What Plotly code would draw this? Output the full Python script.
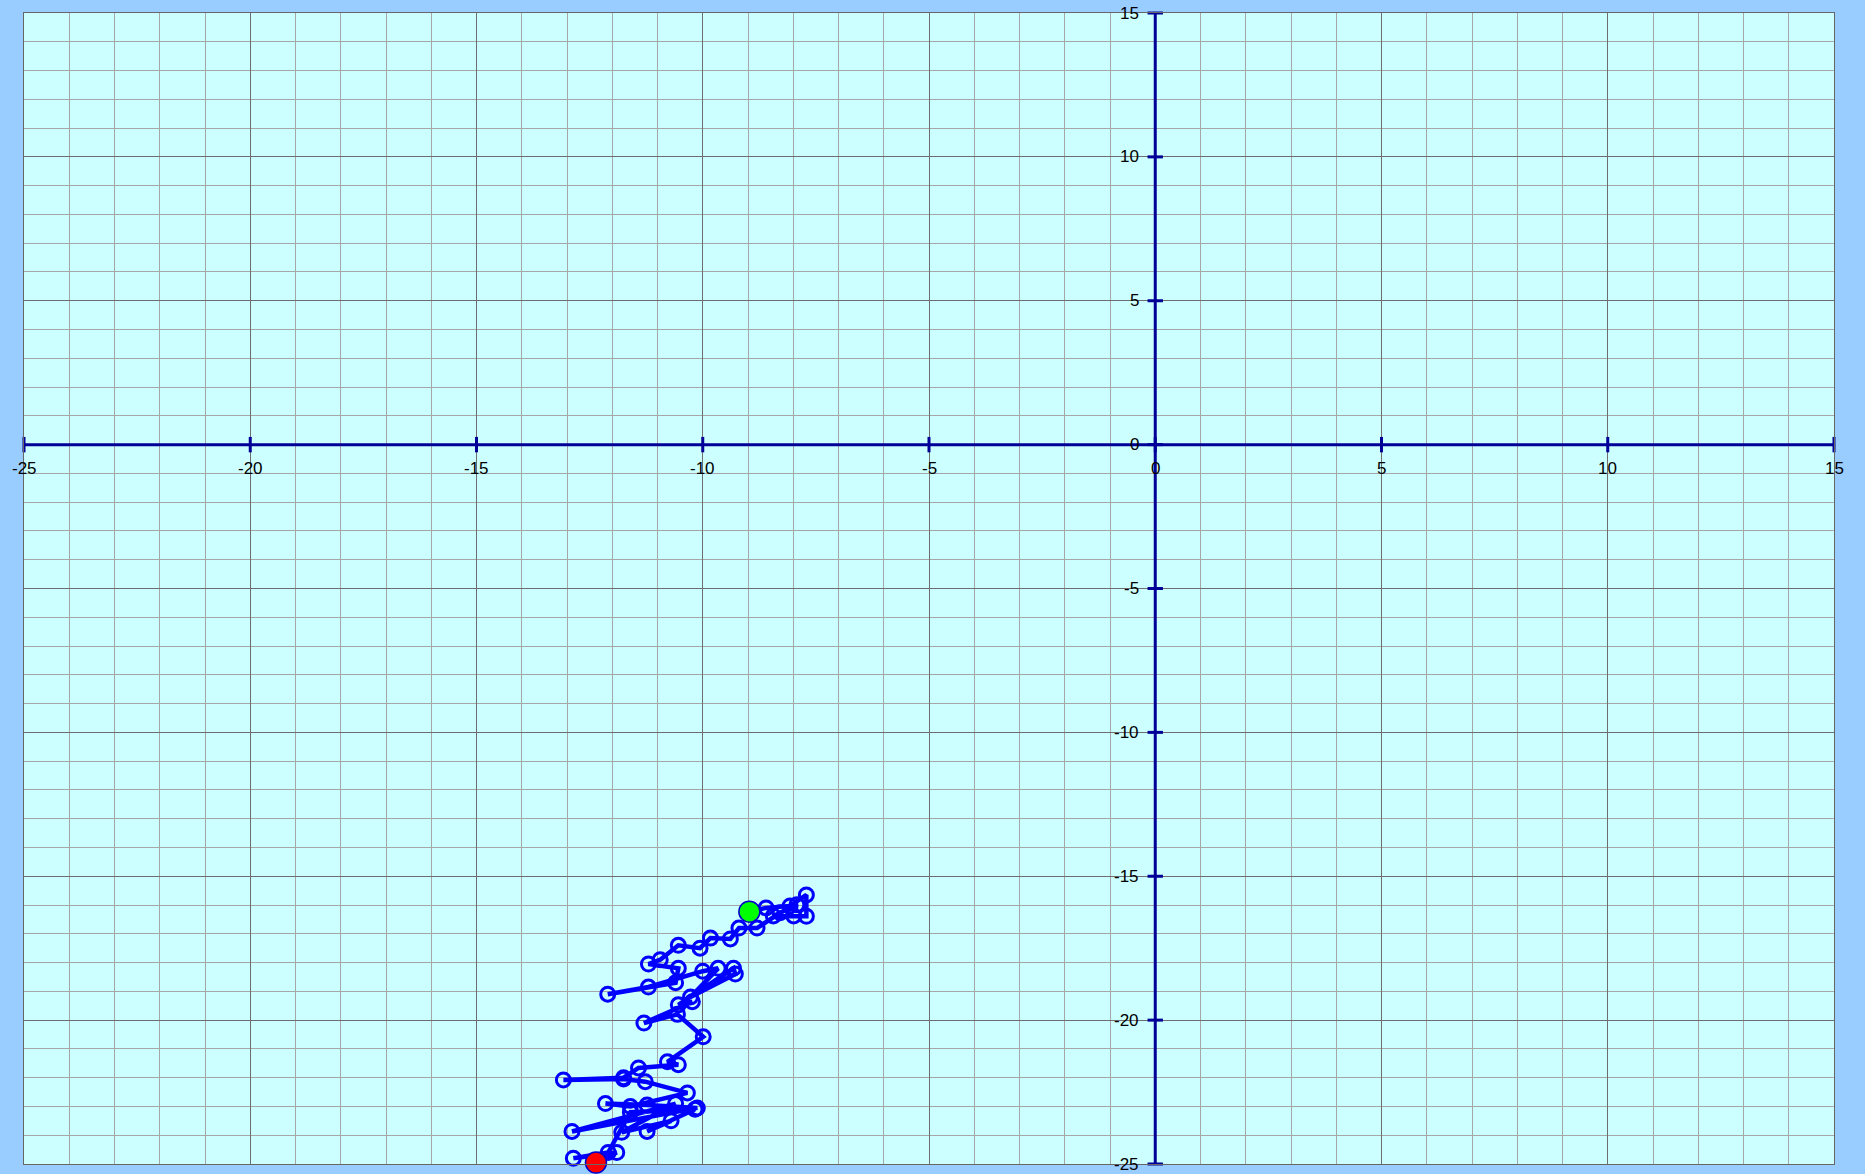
import plotly.graph_objects as go

# Path data (x, y)
path_x = [-8.97, -8.60, -8.07, -7.71, -7.71, -7.99, -8.44, -7.92, -8.29, -8.80, -9.20, -9.39,
          -9.83, -10.06, -10.54, -10.94, -11.20, -10.54, -10.60, -12.10, -11.20, -10.00,
          -9.66, -10.27, -9.28, -9.32, -10.54, -10.23, -11.30, -10.56, -9.99, -10.78,
          -10.54, -11.42, -11.75, -13.08, -11.75, -11.27, -10.34, -11.60, -12.15, -11.23,
          -10.12, -12.89, -10.60, -11.79, -10.70, -11.23, -10.17, -11.60, -12.09, -12.86,
          -11.90, -12.36]
path_y = [-16.23, -16.10, -16.03, -15.65, -16.39, -16.38, -16.38, -15.99, -16.27, -16.80, -16.80, -17.18,
          -17.15, -17.50, -17.40, -17.90, -18.05, -18.20, -18.70, -19.10, -18.85, -18.30,
          -18.20, -19.20, -18.40, -18.20, -19.47, -19.36, -20.10, -19.80, -20.58, -21.45,
          -21.55, -21.66, -22.00, -22.08, -22.05, -22.14, -22.53, -23.00, -22.90, -22.95,
          -23.05, -23.87, -22.90, -23.90, -23.50, -23.87, -23.10, -23.20, -24.60, -24.80,
          -24.60, -24.95]

x_range = [-25, 15]
y_range = [-25, 15]
x_tick_vals = [-25, -20, -15, -10, -5, 0, 5, 10, 15]
y_tick_vals = [-25, -20, -15, -10, -5, 0, 5, 10, 15]
x_tick_text = [str(v) for v in x_tick_vals]
y_tick_text = [str(v) for v in y_tick_vals]

AXIS_COLOR = "#000099"
FONT = "Liberation Sans, Arial, sans-serif"

fig = go.Figure()

# Central axes
fig.add_trace(go.Scatter(x=x_range, y=[0, 0], mode="lines",
                         line=dict(color=AXIS_COLOR, width=3), hoverinfo="skip", showlegend=False))
fig.add_trace(go.Scatter(x=[0, 0], y=y_range, mode="lines",
                         line=dict(color=AXIS_COLOR, width=3), hoverinfo="skip", showlegend=False))
# Tick marks
fig.add_trace(go.Scatter(x=x_tick_vals, y=[0] * len(x_tick_vals), mode="markers",
                         marker=dict(symbol="line-ns", size=11, line=dict(color=AXIS_COLOR, width=3)),
                         cliponaxis=False, hoverinfo="skip", showlegend=False))
fig.add_trace(go.Scatter(x=[0] * len(y_tick_vals), y=y_tick_vals, mode="markers",
                         marker=dict(symbol="line-ew", size=11, line=dict(color=AXIS_COLOR, width=3)),
                         cliponaxis=False, hoverinfo="skip", showlegend=False))

# Path
fig.add_trace(go.Scatter(x=path_x, y=path_y, mode="lines+markers",
                         line=dict(color="#0000ff", width=4.5),
                         marker=dict(symbol="circle-open", size=14, color="#0000ff",
                                     line=dict(color="#0000ff", width=3)),
                         cliponaxis=False, showlegend=False))
# Start / end
fig.add_trace(go.Scatter(x=[path_x[0]], y=[path_y[0]], mode="markers",
                         marker=dict(size=21, color="#00ff00", line=dict(color="#0000cc", width=1.5)),
                         cliponaxis=False, showlegend=False))
fig.add_trace(go.Scatter(x=[path_x[-1]], y=[path_y[-1]], mode="markers",
                         marker=dict(size=21, color="#ff0000", line=dict(color="#0000cc", width=1.5)),
                         cliponaxis=False, showlegend=False))

annotations = []
for v, t in zip(x_tick_vals, x_tick_text):
    annotations.append(dict(x=v, y=0, xref="x", yref="y", text=t, showarrow=False,
                            xanchor="center", yanchor="middle", yshift=-24,
                            font=dict(family=FONT, size=17, color="#000000")))
for v, t in zip(y_tick_vals, y_tick_text):
    annotations.append(dict(x=0, y=v, xref="x", yref="y", text=t, showarrow=False,
                            xanchor="right", yanchor="middle", xshift=-14,
                            font=dict(family=FONT, size=17, color="#000000")))

axis_common = dict(
    showgrid=True, gridcolor="#6e6e6e", gridwidth=1, dtick=5, tick0=0,
    minor=dict(dtick=1, showgrid=True, gridcolor="#a6a6a6", gridwidth=1),
    showticklabels=False, ticks="", zeroline=False,
    showline=True, mirror=True, linecolor="#666666", linewidth=1,
    fixedrange=True,
)

fig.update_layout(
    width=1865,
    height=1174,
    autosize=False,
    paper_bgcolor="#99ccff",
    plot_bgcolor="#ccffff",
    margin=dict(l=24, r=31, t=13, b=10),
    xaxis=dict(range=x_range, **axis_common),
    yaxis=dict(range=y_range, **axis_common),
    annotations=annotations,
    font=dict(family=FONT),
    showlegend=False,
)

fig.write_html(
    "out.html",
    config={"displayModeBar": False},
    post_script="document.body.style.margin='0';document.body.style.overflow='hidden';"
                "document.body.style.background='#99ccff';",
)
